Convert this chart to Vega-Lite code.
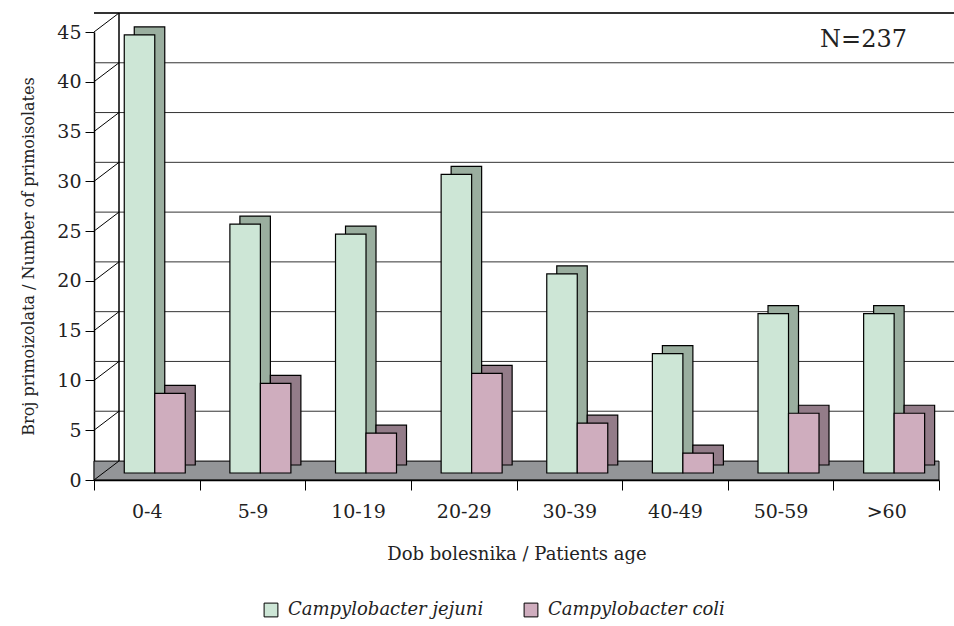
{
  "$schema": "https://vega.github.io/schema/vega-lite/v6.json",
  "width": 845,
  "height": 448,
  "autosize": {"type": "none"},
  "padding": {"left": 94, "top": 32, "right": 15, "bottom": 146},
  "background": "white",
  "config": {
    "font": "DejaVu Serif",
    "view": {"stroke": null},
    "axis": {"labelFont": "DejaVu Serif", "titleFont": "DejaVu Serif", "domainColor": "black", "tickColor": "black", "labelColor": "#222", "titleColor": "#222", "titleFontWeight": "normal"}
  },
  "datasets": {
    "bars": [
      {"age": "0-4", "species": "Campylobacter jejuni", "n": 44},
      {"age": "0-4", "species": "Campylobacter coli", "n": 8},
      {"age": "5-9", "species": "Campylobacter jejuni", "n": 25},
      {"age": "5-9", "species": "Campylobacter coli", "n": 9},
      {"age": "10-19", "species": "Campylobacter jejuni", "n": 24},
      {"age": "10-19", "species": "Campylobacter coli", "n": 4},
      {"age": "20-29", "species": "Campylobacter jejuni", "n": 30},
      {"age": "20-29", "species": "Campylobacter coli", "n": 10},
      {"age": "30-39", "species": "Campylobacter jejuni", "n": 20},
      {"age": "30-39", "species": "Campylobacter coli", "n": 5},
      {"age": "40-49", "species": "Campylobacter jejuni", "n": 12},
      {"age": "40-49", "species": "Campylobacter coli", "n": 2},
      {"age": "50-59", "species": "Campylobacter jejuni", "n": 16},
      {"age": "50-59", "species": "Campylobacter coli", "n": 6},
      {"age": ">60", "species": "Campylobacter jejuni", "n": 16},
      {"age": ">60", "species": "Campylobacter coli", "n": 6}
    ],
    "grid": [{"g": 5}, {"g": 10}, {"g": 15}, {"g": 20}, {"g": 25}, {"g": 30}, {"g": 35}, {"g": 40}, {"g": 45}],
    "ticks": [{"g": 0}, {"g": 5}, {"g": 10}, {"g": 15}, {"g": 20}, {"g": 25}, {"g": 30}, {"g": 35}, {"g": 40}, {"g": 45}]
  },
  "layer": [
    {
      "data": {"values": [{}]},
      "mark": {"type": "rect", "fill": "#939598", "stroke": "black", "strokeWidth": 1},
      "encoding": {
        "x": {"datum": "0-4", "bandPosition": 0, "type": "nominal", "scale": {"domain": ["0-4", "5-9", "10-19", "20-29", "30-39", "40-49", "50-59", ">60"], "paddingInner": 0, "paddingOuter": 0},
          "axis": {"title": "Dob bolesnika / Patients age", "labelAngle": 0, "labelFontSize": 19, "titleFontSize": 18, "tickBand": "extent", "tickSize": 10, "labelPadding": 12, "titlePadding": 24, "domainWidth": 1.5}},
        "x2": {"datum": ">60", "bandPosition": 1},
        "y": {"datum": 0, "type": "quantitative", "scale": {"domain": [0, 45], "nice": false},
          "axis": {"title": "Broj primoizolata / Number of primoisolates", "values": [0, 5, 10, 15, 20, 25, 30, 35, 40, 45], "grid": false, "labelFontSize": 19, "titleFontSize": 16, "tickSize": 9, "labelPadding": 4, "titlePadding": 20, "domainWidth": 1.5}},
        "y2": {"datum": 1.9}
      }
    },
    {
      "data": {"name": "grid"},
      "mark": {"type": "rule", "color": "#333", "xOffset": 25, "x2Offset": 25, "yOffset": -19},
      "encoding": {
        "y": {"field": "g", "type": "quantitative"},
        "strokeWidth": {"condition": {"test": "datum.g == 45", "value": 2}, "value": 1}
      }
    },
    {
      "data": {"name": "ticks"},
      "mark": {"type": "rule", "color": "black", "strokeWidth": 1, "x2Offset": 25, "y2Offset": -19},
      "encoding": {
        "x": {"datum": "0-4", "bandPosition": 0, "type": "nominal"},
        "x2": {"datum": "0-4", "bandPosition": 0},
        "y": {"field": "g", "type": "quantitative"},
        "y2": {"field": "g"}
      }
    },
    {
      "data": {"values": [{}]},
      "mark": {"type": "rule", "color": "black", "strokeWidth": 1.5, "xOffset": 25, "yOffset": -19, "y2Offset": -19},
      "encoding": {
        "x": {"datum": "0-4", "bandPosition": 0, "type": "nominal"},
        "y": {"datum": 0, "type": "quantitative"},
        "y2": {"datum": 45}
      }
    },
    {
      "data": {"name": "bars"},
      "transform": [{"filter": "datum.species == 'Campylobacter jejuni'"}],
      "mark": {"type": "bar", "fill": "#9aae9f", "stroke": "black", "strokeWidth": 1.2, "width": 30.5, "xOffset": 2.7, "yOffset": -15, "y2Offset": -15},
      "encoding": {
        "x": {"field": "age", "type": "nominal"},
        "y": {"field": "n", "type": "quantitative"}
      }
    },
    {
      "data": {"name": "bars"},
      "transform": [{"filter": "datum.species == 'Campylobacter coli'"}],
      "mark": {"type": "bar", "fill": "#937c89", "stroke": "black", "strokeWidth": 1.2, "width": 30.5, "xOffset": 33.2, "yOffset": -15, "y2Offset": -15},
      "encoding": {
        "x": {"field": "age", "type": "nominal"},
        "y": {"field": "n", "type": "quantitative"}
      }
    },
    {
      "data": {"name": "bars"},
      "transform": [{"filter": "datum.species == 'Campylobacter jejuni'"}],
      "mark": {"type": "bar", "stroke": "black", "strokeWidth": 1.2, "width": 30.5, "xOffset": -7.3, "yOffset": -7, "y2Offset": -7},
      "encoding": {
        "x": {"field": "age", "type": "nominal"},
        "y": {"field": "n", "type": "quantitative"},
        "color": {
          "field": "species", "type": "nominal",
          "scale": {"domain": ["Campylobacter jejuni", "Campylobacter coli"], "range": ["#cde6d6", "#cfadbe"]},
          "legend": {"title": null, "orient": "none", "direction": "horizontal", "legendX": 168, "legendY": 569, "symbolType": "square", "symbolSize": 190, "symbolStrokeColor": "black", "symbolStrokeWidth": 1, "labelFontSize": 18, "labelFontStyle": "italic", "labelFont": "DejaVu Serif", "labelColor": "#222", "labelLimit": 400, "columnPadding": 38, "labelOffset": 8}
        }
      }
    },
    {
      "data": {"name": "bars"},
      "transform": [{"filter": "datum.species == 'Campylobacter coli'"}],
      "mark": {"type": "bar", "stroke": "black", "strokeWidth": 1.2, "width": 30.5, "xOffset": 23.2, "yOffset": -7, "y2Offset": -7},
      "encoding": {
        "x": {"field": "age", "type": "nominal"},
        "y": {"field": "n", "type": "quantitative"},
        "color": {"field": "species", "type": "nominal"}
      }
    },
    {
      "data": {"values": [{"label": "N=237"}]},
      "mark": {"type": "text", "align": "right", "baseline": "alphabetic", "fontSize": 24, "font": "DejaVu Serif", "color": "#222", "dx": -32},
      "encoding": {
        "x": {"datum": ">60", "bandPosition": 1, "type": "nominal"},
        "y": {"datum": 43.5, "type": "quantitative"},
        "text": {"field": "label"}
      }
    }
  ]
}
